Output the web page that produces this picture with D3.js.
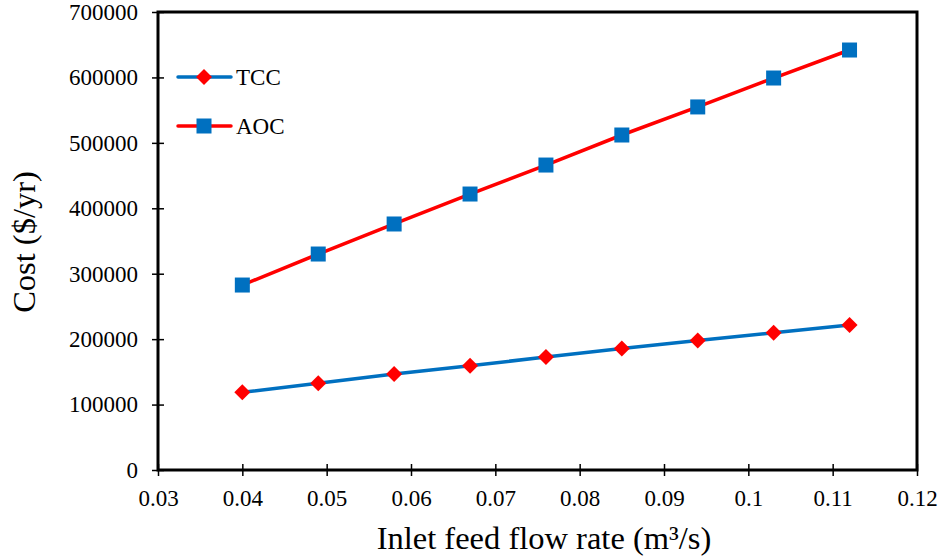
<!DOCTYPE html>
<html><head><meta charset="utf-8">
<script src="https://cdn.jsdelivr.net/npm/d3@7"></script>
<style>body{margin:0;background:#fff}svg{display:block}</style>
</head><body><svg id="c" width="943" height="558"></svg>
<script>
const flowRates = [0.04, 0.049, 0.058, 0.067, 0.076, 0.085, 0.094, 0.103, 0.112];
const tccValues = [118700, 132700, 146700, 159300, 172700, 185800, 197800, 209800, 221600];
const aocValues = [282700, 330100, 376000, 421800, 466100, 512000, 554900, 599100, 641900];
const xTicks = [0.03, 0.04, 0.05, 0.06, 0.07, 0.08, 0.09, 0.1, 0.11, 0.12];
const yTicks = [0, 100000, 200000, 300000, 400000, 500000, 600000, 700000];
const seriesNames = ["TCC", "AOC"];

const FONT = "'Liberation Serif', 'Times New Roman', serif";
const svg = d3.select("#c");
const L = 158, R = 917, T = 12, B = 470;
const x = d3.scaleLinear().domain([0.03, 0.12]).range([L, R]);
const y = d3.scaleLinear().domain([0, 700000]).range([B, T]);

svg.append("rect").attr("x", L).attr("y", T).attr("width", R - L).attr("height", B - T)
  .attr("fill", "none").attr("stroke", "#000").attr("stroke-width", 3);

const xAxis = svg.append("g").attr("transform", `translate(0,${B})`)
  .call(d3.axisBottom(x).tickValues(xTicks).tickFormat(d => String(+d.toFixed(2))).tickSize(6).tickSizeOuter(0));
xAxis.select(".domain").remove();
xAxis.selectAll(".tick line").attr("y1", -6).attr("y2", 6).attr("stroke-width", 1.5);
xAxis.selectAll(".tick text").attr("y", 20);

const yAxis = svg.append("g").attr("transform", `translate(${L},0)`)
  .call(d3.axisLeft(y).tickValues(yTicks).tickFormat(d3.format("d")).tickSize(6).tickSizeOuter(0));
yAxis.select(".domain").remove();
yAxis.selectAll(".tick line").attr("x1", -6).attr("x2", 6).attr("stroke-width", 1.5);
yAxis.selectAll(".tick text").attr("x", -20);
svg.selectAll(".tick text").style("font-family", FONT).style("font-size", "23px").attr("fill", "#000");

const line = d3.line().x(d => x(d[0])).y(d => y(d[1]));
const tcc = flowRates.map((f, i) => [f, tccValues[i]]);
const aoc = flowRates.map((f, i) => [f, aocValues[i]]);

svg.append("path").datum(tcc).attr("d", line).attr("fill", "none").attr("stroke", "#0070C0").attr("stroke-width", 3.5);
svg.append("path").datum(aoc).attr("d", line).attr("fill", "none").attr("stroke", "#FF0000").attr("stroke-width", 3.5);

const diamond = "M0,-8L8,0L0,8L-8,0Z";
svg.selectAll(".tm").data(tcc).enter().append("path")
  .attr("d", diamond).attr("transform", d => `translate(${x(d[0])},${y(d[1])})`).attr("fill", "#FF0000");
svg.selectAll(".am").data(aoc).enter().append("rect")
  .attr("x", d => x(d[0]) - 7.5).attr("y", d => y(d[1]) - 7.5).attr("width", 15).attr("height", 15)
  .attr("fill", "#0070C0");

const lg = [{name: seriesNames[0], yy: 77, lc: "#0070C0"}, {name: seriesNames[1], yy: 126, lc: "#FF0000"}];
lg.forEach((d, i) => {
  svg.append("line").attr("x1", 178).attr("x2", 231).attr("y1", d.yy).attr("y2", d.yy)
    .attr("stroke", d.lc).attr("stroke-width", 3.5).attr("stroke-linecap", "round");
  if (i === 0) svg.append("path").attr("d", diamond).attr("transform", `translate(204,${d.yy})`).attr("fill", "#FF0000");
  else svg.append("rect").attr("x", 196.5).attr("y", d.yy - 7.5).attr("width", 15).attr("height", 15).attr("fill", "#0070C0");
  svg.append("text").attr("x", 236).attr("y", d.yy).attr("dy", "0.35em").style("font-family", FONT).style("font-size", "23px").text(d.name);
});

svg.append("text").attr("x", 544).attr("y", 549).attr("text-anchor", "middle").style("font-family", FONT).style("font-size", "32.5px")
  .text("Inlet feed flow rate (m³/s)");
svg.append("text").attr("transform", "translate(35,242) rotate(-90)").attr("text-anchor", "middle").style("font-family", FONT).style("font-size", "32.5px")
  .text("Cost ($/yr)");
</script></body></html>
